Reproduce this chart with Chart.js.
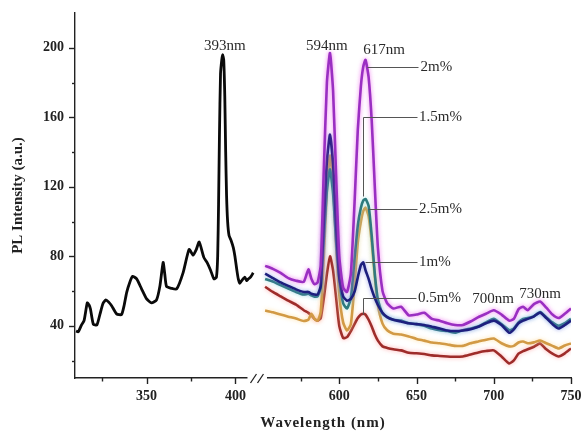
<!DOCTYPE html>
<html><head><meta charset="utf-8">
<script src="https://cdn.jsdelivr.net/npm/chart.js@4.4.1/dist/chart.umd.min.js"></script>
<style>html,body{margin:0;padding:0;background:#fff}#wrap{position:relative;width:582px;height:435px}</style>
</head><body><div id="wrap"><canvas id="c" width="582" height="435"></canvas></div>
<script>
// ---- Excitation spectrum (black, left part of broken axis) ----
const excWl = [310.3,311.5,313.4,314.8,316.6,317.6,318.4,320,322,323.8,325.5,327.1,328.8,330.3,333.1,335.9,337.4,338.8,340.5,342.1,344.4,347.2,350,352.8,355.6,357.5,359.3,360.2,361.2,364,366.9,370.6,373.9,376.2,378,379.6,382.2,384,386,387.9,389.3,390,390.5,391,391.6,392.3,392.8,393.4,394,394.5,395,395.6,396.4,397.6,398.8,399.7,400.8,401.6,402.5,403.5,405.3,406.3,407.2,408.5,410];
const excPL = [37,36.5,40.6,43,53.2,52,49.7,41,40.5,46.9,53,55,53.5,51.6,46.9,46.5,52,59.3,65,68.5,67,61.2,55.5,53.2,55,63,76.5,70,62.7,61.6,61.2,70.8,84,80.7,84,88.3,79.4,76.5,72,67,68,80,110,150,185,193,196,193,172,140,115,100,92,89,85,80,72,67,64.5,66,68,66,67,68,70.5];

// ---- Emission spectra (right part) ----
const emWl = [552,557,562,567,572,577,580,582,584,586,588,590,592,594,596,598,600,602.5,605,607.5,610,612,614,615.5,617,619,621,623,625,628,631,635,640,645,650,655,660,665,670,675,680,685,690,695,700,705,710,713,716,719,722,726,730,734,738,742,746,750];
const em2m  = [74.5,72.8,70.5,67.5,66,65.3,72.5,67,64,65,75,130,180,197,175,125,80,62,59.5,70,113,153,178,189,193,183,158,120,85,60,53,50,51,46,46.5,47.5,44,43,41.5,40.5,40.5,42.5,45,47,49,46.5,43,44,49.5,51,49,52.5,54,50.5,46.5,44.5,47,50];
const em15m = [67,65.5,63.5,61.5,59.5,58,58.5,57.5,56.8,57,62,90,118,130,116,88,67,53,50,56,80,98,108,112,113,109,92,70,55,47,45,43.5,43,41.5,41,40,38.5,37.5,37,36,37.5,38.5,39.6,42,44,41,37.5,38.5,42,44,44.5,45.5,48,45,42,40,41.5,44];
const em1m  = [70,67.5,65,63,61,59.5,59.5,58.5,58,58,63,100,135,150,133,97,68,57,54.5,55.5,60,68,75,76.5,72,67,61,56,52,47.5,45,43.5,42.5,41.5,41,40.5,39.5,38.5,37.3,37,37.3,38,39.5,41.5,43,40.5,36,38,41.5,43,44,45.5,47.6,44.5,41,38.5,40.5,43];
const em25m = [48.8,47.8,46.5,45.3,44.2,42.8,43.5,47,44,43,48,80,118,138,122,85,58,42,37.3,41,65,88,100,106,108,103,88,68,52,41.3,37.5,35.5,35,33.9,32.5,31.5,30.4,30,29.3,28.5,28.5,30,31,32,32.7,30,28.2,28.5,30.4,31,30,30.5,31.6,30,28.5,27,28.7,29.9];
const em05m = [62.5,59.5,57,54.5,52.2,49,47.5,45.9,44,43,44.5,56,70,80,72,56,40,33,33.5,37,41.3,44.5,46.5,47,46.5,43.5,39.6,35,31.5,28.2,27.3,26.5,25.9,24.5,24.2,23.8,23,22.7,22.4,22.2,22.4,23.5,24.7,25.5,25.9,22.4,18.4,20.1,24,25.5,26.5,28,29.9,26.5,24,22.4,24.2,27];

// ---- Tick values ----
const xTickWl = [325,350,375,400,575,600,625,650,675,700,725,750];
const yTickVals = [20,40,60,80,100,120,140,160,180,200];

// broken-axis mapping (two linear segments on one virtual axis)
const SEG_L = {w0:309.7, k:1.777, u0:0};
const SEG_R = {w0:600, k:1.545, u0:264.3};
function toU(w){ return w < 480 ? SEG_L.u0 + (w-SEG_L.w0)*SEG_L.k : SEG_R.u0 + (w-SEG_R.w0)*SEG_R.k; }
const U_MIN = 0, U_MAX = toU(750);
const BREAK_U = [172.5, 192];

const NOTES = [
  {t:'393nm', w:394, v:201, a:'center'},
  {t:'594nm', w:592, v:201, a:'center'},
  {t:'617nm', w:629, v:198.5, a:'center'},
  {t:'2m%', w:652.6, v:189, a:'left'},
  {t:'1.5m%', w:651.6, v:160.3, a:'left'},
  {t:'2.5m%', w:651.6, v:107, a:'left'},
  {t:'1m%', w:651.6, v:76.5, a:'left'},
  {t:'0.5m%', w:651, v:56.2, a:'left'},
  {t:'700nm', w:699.5, v:55.6, a:'center'},
  {t:'730nm', w:730, v:58.5, a:'center'}
];
const LEADERS = [
  [[617.7,189],[651.2,189]],
  [[615.3,114.6],[615.3,160.3],[650.3,160.3]],
  [[618.6,107],[650.3,107]],
  [[616.6,76.5],[650.3,76.5]],
  [[615.3,47],[615.3,56.2],[649.6,56.2]]
];

const SERIF = "'Liberation Serif','Times New Roman',serif";
const pts = (wl, vals) => wl.map((w,i)=>({x:toU(w), y:vals[i]}));

function ds(label, wl, vals, color, glow, order, width){
  return {label, data:pts(wl,vals), borderColor:color, borderWidth:width||2.6, pointRadius:0,
          tension:0.18, fill:false, order, glowColor:glow};
}

const glowPlugin = {
  id:'glow',
  beforeDatasetDraw(chart, args){
    const d = chart.data.datasets[args.index];
    chart.ctx.save();
    if (d.glowColor){ chart.ctx.shadowColor = d.glowColor; chart.ctx.shadowBlur = 4; }
  },
  afterDatasetDraw(chart){ chart.ctx.restore(); }
};

const decor = {
  id:'decor',
  afterDraw(chart){
    const ctx = chart.ctx, x = chart.scales.x, y = chart.scales.y, ca = chart.chartArea;
    ctx.save();
    ctx.strokeStyle = '#222'; ctx.lineWidth = 1.4;
    // ticks
    xTickWl.forEach(w=>{
      const px = Math.round(x.getPixelForValue(toU(w)))+0.5;
      const len = w%50===0 ? 6 : 3.5;
      ctx.beginPath(); ctx.moveTo(px, ca.bottom); ctx.lineTo(px, ca.bottom+len); ctx.stroke();
    });
    yTickVals.forEach(v=>{
      const py = Math.round(y.getPixelForValue(v))+0.5;
      const len = v%40===0 ? 6 : 3;
      ctx.beginPath(); ctx.moveTo(ca.left-len, py); ctx.lineTo(ca.left, py); ctx.stroke();
    });
    // axis break
    const g0 = x.getPixelForValue(BREAK_U[0]), g1 = x.getPixelForValue(BREAK_U[1]);
    ctx.fillStyle = '#fff';
    ctx.fillRect(g0, ca.bottom-2, g1-g0, 4);
    ctx.lineWidth = 1.3;
    [g0+3, g0+10].forEach(sx=>{
      ctx.beginPath(); ctx.moveTo(sx, ca.bottom+5); ctx.lineTo(sx+6, ca.bottom-4); ctx.stroke();
    });
    // leaders
    ctx.strokeStyle = '#555'; ctx.lineWidth = 1;
    LEADERS.forEach(L=>{
      ctx.beginPath();
      L.forEach((p,i)=>{
        const px = Math.round(x.getPixelForValue(toU(p[0])))+0.5, py = Math.round(y.getPixelForValue(p[1]))+0.5;
        if(i===0) ctx.moveTo(px,py); else ctx.lineTo(px,py);
      });
      ctx.stroke();
    });
    // annotation texts
    ctx.fillStyle = '#2a2a2a';
    ctx.font = '15px ' + SERIF;
    ctx.textBaseline = 'middle';
    NOTES.forEach(n=>{
      ctx.textAlign = n.a;
      ctx.fillText(n.t, x.getPixelForValue(toU(n.w)), y.getPixelForValue(n.v));
    });
    // x title
    ctx.fillStyle = '#222';
    ctx.font = 'bold 15px ' + SERIF;
    ctx.textAlign = 'center';
    try { ctx.letterSpacing = '1px'; } catch(e){}
    ctx.fillText('Wavelength (nm)', (ca.left+ca.right)/2, 423);
    try { ctx.letterSpacing = '0px'; } catch(e){}
    ctx.restore();
  }
};

new Chart(document.getElementById('c'), {
  type:'line',
  data:{datasets:[
    ds('excitation', excWl, excPL, '#0a0a0a', null, 0, 2.8),
    ds('2m%', emWl, em2m, '#9a2fc2', 'rgba(235,90,235,0.8)', 1),
    ds('1m%', emWl, em1m, '#1d1f7e', 'rgba(120,130,230,0.7)', 2),
    ds('1.5m%', emWl, em15m, '#2d7b7d', 'rgba(140,220,220,0.7)', 3),
    ds('2.5m%', emWl, em25m, '#d29a45', 'rgba(255,220,150,0.8)', 4),
    ds('0.5m%', emWl, em05m, '#9e2c2a', 'rgba(255,140,140,0.7)', 5)
  ]},
  options:{
    responsive:false, animation:false, parsing:true,
    layout:{padding:{top:13, right:11, left:0, bottom:0}},
    plugins:{legend:{display:false}, tooltip:{enabled:false}},
    scales:{
      x:{type:'linear', min:U_MIN, max:U_MAX,
        afterBuildTicks(s){ s.ticks = xTickWl.map(w=>({value:toU(w)})); },
        afterFit(s){ s.height = 57; s.paddingLeft = 0; s.paddingRight = 0; },
        ticks:{autoSkip:false, maxRotation:0, padding:4, color:'#222',
          font:{family:SERIF, weight:'bold', size:14},
          callback:(v,i)=> xTickWl[i]%50===0 ? String(xTickWl[i]) : ''},
        grid:{drawOnChartArea:false, tickLength:6, tickColor:'rgba(0,0,0,0)'},
        border:{color:'#222', width:1.4}
      },
      y:{type:'linear', min:10, max:220,
        afterBuildTicks(s){ s.ticks = yTickVals.map(v=>({value:v})); },
        afterFit(s){ s.width = 75; s.paddingTop = 0; s.paddingBottom = 0; },
        ticks:{autoSkip:false, padding:5, color:'#222',
          font:{family:SERIF, weight:'bold', size:14},
          callback:(v)=> v%40===0 ? String(v) : ''},
        grid:{drawOnChartArea:false, tickLength:6, tickColor:'rgba(0,0,0,0)'},
        border:{color:'#222', width:1.4},
        title:{display:true, text:'PL Intensity (a.u.)', color:'#222',
          font:{family:SERIF, weight:'bold', size:15}, padding:{top:9, bottom:0}}
      }
    }
  },
  plugins:[glowPlugin, decor]
});
</script></body></html>
